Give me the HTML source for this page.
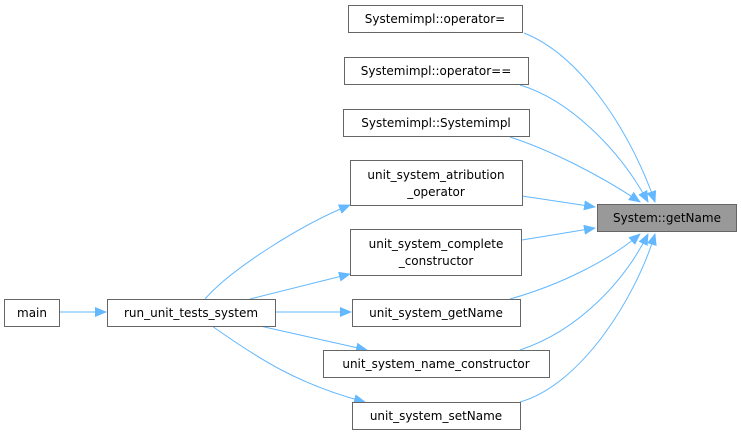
<!DOCTYPE html>
<html><head><meta charset="utf-8"><style>
html,body{margin:0;padding:0;background:#fff;}
svg{display:block;}
text{font-family:"DejaVu Sans","Liberation Sans",sans-serif;font-size:12px;fill:#000;}
</style></head><body>
<svg width="741" height="436" viewBox="0 0 741 436" xmlns="http://www.w3.org/2000/svg">
<defs>
<marker id="a" markerWidth="12" markerHeight="10" refX="11" refY="5" orient="auto" markerUnits="userSpaceOnUse">
<path d="M0,0 L12,5 L0,10 z" fill="#63b8ff"/>
</marker>
</defs>
<g fill="none" stroke="#63b8ff" stroke-width="1">
<path d="M524,33 C580,55 630,130 655,202" marker-end="url(#a)"/>
<path d="M520,85 C570,100 620,150 648,202" marker-end="url(#a)"/>
<path d="M510,137 C550,150 600,175 640,202" marker-end="url(#a)"/>
<path d="M522,196 L595,207" marker-end="url(#a)"/>
<path d="M522,240 L595,228" marker-end="url(#a)"/>
<path d="M510,299 C560,285 610,260 640,234" marker-end="url(#a)"/>
<path d="M520,350 C580,330 625,280 648,234" marker-end="url(#a)"/>
<path d="M520,402 C580,385 635,300 655,234" marker-end="url(#a)"/>
<path d="M60,312 L106,312" marker-end="url(#a)"/>
<path d="M205,299 C230,270 300,225 350,205" marker-end="url(#a)"/>
<path d="M250,299 L350,274" marker-end="url(#a)"/>
<path d="M276,312 L351,312" marker-end="url(#a)"/>
<path d="M260,326 L367,350" marker-end="url(#a)"/>
<path d="M212,326 C260,360 300,385 365,402" marker-end="url(#a)"/>
</g>
<g stroke="#666" stroke-width="1" fill="#fff">
<rect x="348.5" y="5.5" width="174" height="27"/>
<rect x="344.5" y="57.5" width="184" height="27"/>
<rect x="343.5" y="109.5" width="186" height="27"/>
<rect x="350.5" y="160.5" width="172" height="45"/>
<rect x="350.5" y="229.5" width="171" height="46"/>
<rect x="352.5" y="299.5" width="168" height="27"/>
<rect x="323.5" y="350.5" width="226" height="27"/>
<rect x="352.5" y="402.5" width="168" height="27"/>
<rect x="597.5" y="204.5" width="139" height="27" fill="#999"/>
<rect x="4.5" y="299.5" width="55" height="27"/>
<rect x="107.5" y="299.5" width="168" height="27"/>
</g>
<g text-anchor="middle">
<text x="435" y="23">Systemimpl::operator=</text>
<text x="436" y="75">Systemimpl::operator==</text>
<text x="436" y="127">Systemimpl::Systemimpl</text>
<text x="436" y="179">unit_system_atribution</text>
<text x="436" y="196">_operator</text>
<text x="436" y="248">unit_system_complete</text>
<text x="436" y="265">_constructor</text>
<text x="436" y="317">unit_system_getName</text>
<text x="436" y="368">unit_system_name_constructor</text>
<text x="436" y="420">unit_system_setName</text>
<text x="667" y="222">System::getName</text>
<text x="32" y="317">main</text>
<text x="191" y="317">run_unit_tests_system</text>
</g>
</svg>
</body></html>
